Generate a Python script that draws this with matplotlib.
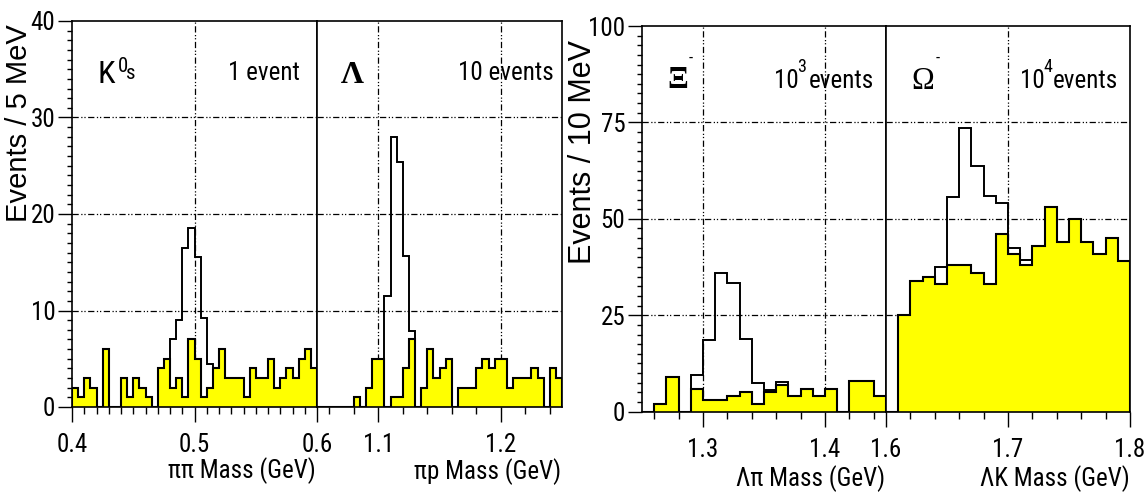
import matplotlib
matplotlib.use('Agg')
import matplotlib.pyplot as plt
import numpy as np
from matplotlib import font_manager as fm
from matplotlib.ticker import MultipleLocator, FixedLocator, FixedFormatter

# ---------------- data ----------------
k0s_range = (0.40, 0.60)   # GeV, 5 MeV bins
k0s_bkg = [2, 1, 3, 2, 0, 6, 0, 0, 3, 1, 3, 2, 1, 0, 4, 5, 2, 3, 1, 7,
           5, 1, 2, 4, 6, 3, 3, 3, 1, 4, 3, 3, 5, 2, 3, 4, 3, 5, 6, 4]
k0s_tot = [2, 1, 3, 2, 0, 6, 0, 0, 3, 1, 3, 2, 1, 0, 4, 5, 7, 9, 16.5, 18.5,
           15.5, 9.2, 4.5, 4, 6, 3, 3, 3, 1, 4, 3, 3, 5, 2, 3, 4, 3, 5, 6, 4]

lam_range = (1.05, 1.25)   # GeV, 5 MeV bins
lam_bkg = [0, 0, 0, 0, 0, 0, 1, 0, 2, 5, 5, 0, 1, 1, 4, 7, 0, 2, 6, 3,
           4, 5, 0, 2, 2, 2, 4, 5, 4, 5, 5, 2, 3, 3, 3, 4, 3, 0, 4, 3]
lam_tot = [0, 0, 0, 0, 0, 0, 1, 0, 2, 5, 5, 11.5, 28, 25.4, 15.6, 7.9, 0, 2, 6, 3,
           4, 5, 0, 2, 2, 2, 4, 5, 4, 5, 5, 2, 3, 3, 3, 4, 3, 0, 4, 3]

xi_range = (1.25, 1.45)    # GeV, 10 MeV bins
xi_bkg = [0, 2, 9, 0, 6, 3, 3, 4, 5, 2, 5, 7, 4, 6, 4, 6, 0, 8, 8, 4]
xi_tot = [0, 2, 9, 0, 9.5, 18.5, 36, 33.3, 18.8, 7.5, 5.6, 7.6, 4, 6, 4, 6, 0, 8, 8, 4]

om_range = (1.60, 1.80)    # GeV, 10 MeV bins
om_bkg = [0, 25, 34, 35, 33, 38, 38, 36, 33, 46, 41, 38, 43, 53, 44, 50, 44, 41, 45, 39]
om_tot = [0, 25, 34, 35, 37.5, 55.6, 73.6, 63.7, 55.9, 54.2, 42.4, 39.3, 43, 53, 44, 50, 44, 41, 45, 39]

k0s_xticks = [0.4, 0.5, 0.6]
lam_xticks = [1.1, 1.2]
xi_xticks = [1.3, 1.4]
om_xticks = [1.6, 1.7, 1.8]
left_yticks = [0, 10, 20, 30, 40]
right_yticks = [0, 25, 50, 75, 100]

# ---------------- fonts ----------------
_entries = fm.fontManager.ttflist
_names = {f.name for f in _entries}
NARROW_FAM = None
NARROW_STRETCH = 'normal'
for cand in ['Liberation Sans Narrow', 'Arial Narrow', 'Roboto Condensed',
             'DejaVu Sans Condensed', 'Noto Sans Condensed', 'Open Sans Condensed',
             'Nimbus Sans Narrow', 'Nimbus Sans L Condensed']:
    if cand in _names:
        NARROW_FAM = cand
        break
if NARROW_FAM is None:
    for fam in ['Roboto', 'Noto Sans', 'Open Sans', 'DejaVu Sans', 'Liberation Sans', 'Lato', 'Inter']:
        found = [f for f in _entries if f.name == fam and f.style == 'normal'
                 and str(f.stretch) in ('condensed', 'semi-condensed', 'extra-condensed')]
        if found:
            NARROW_FAM = fam
            NARROW_STRETCH = str(found[0].stretch)
            break
if NARROW_FAM is None:
    NARROW_FAM = 'Liberation Sans'
    TS = 15
    AS = 15
else:
    TS = 18
    AS = 18

plt.rcParams['font.family'] = [NARROW_FAM, 'DejaVu Sans']
plt.rcParams['font.stretch'] = NARROW_STRETCH
WIDE = dict(family=['Liberation Sans', 'DejaVu Sans'], stretch='normal')
SERIF = dict(family=['Liberation Serif', 'DejaVu Serif'], stretch='normal')

W, H = 1146, 495
YELLOW = '#ffff00'
GRID_LS = (0, (5, 2, 1, 1.5, 1, 2))

fig = plt.figure(figsize=(W / 100, H / 100), dpi=100)


def add_ax(x0, ytop, x1, ybot):
    return fig.add_axes([x0 / W, 1 - ybot / H, (x1 - x0) / W, (ybot - ytop) / H])


def style(ax, rng, ymax, xmaj, xmin_step, xmin_start, ymin_step, show_y, grid_x, grid_y):
    ax.set_xlim(*rng)
    ax.set_ylim(0, ymax)
    ax.set_axisbelow(True)
    ax.xaxis.set_major_locator(FixedLocator(xmaj))
    ax.xaxis.set_major_formatter(FixedFormatter([f'{v:g}' for v in xmaj]))
    ax.xaxis.set_minor_locator(FixedLocator(np.arange(xmin_start, rng[1] + 1e-9, xmin_step)))
    ax.tick_params(axis='x', which='major', direction='out', length=11, width=1.0,
                   labelsize=TS, pad=8)
    ax.tick_params(axis='x', which='minor', direction='out', length=5, width=1.0)
    if show_y:
        ax.yaxis.set_minor_locator(MultipleLocator(ymin_step))
        ax.tick_params(axis='y', which='major', direction='out', length=10, width=1.0,
                       labelsize=TS, pad=2)
        ax.tick_params(axis='y', which='minor', direction='out', length=3.8, width=1.0)
    else:
        ax.tick_params(axis='y', which='both', left=False, labelleft=False)
    for s in ax.spines.values():
        s.set_linewidth(1.2)
    for gx in grid_x:
        ax.axvline(gx, color='black', lw=0.9, ls=GRID_LS, zorder=1)
    for gy in grid_y:
        ax.axhline(gy, color='black', lw=0.9, ls=GRID_LS, zorder=1)


def hist(ax, rng, bkg, tot):
    edges = np.linspace(rng[0], rng[1], len(bkg) + 1)
    ax.stairs(bkg, edges, fill=True, facecolor=YELLOW, edgecolor='none', zorder=2)
    ax.stairs(tot, edges, color='black', lw=1.4, zorder=3)
    ax.stairs(bkg, edges, color='black', lw=1.5, zorder=3)


# left panel
ax_k = add_ax(72, 21, 317, 407)
ax_l = add_ax(317, 21, 562, 407)
hist(ax_k, k0s_range, k0s_bkg, k0s_tot)
hist(ax_l, lam_range, lam_bkg, lam_tot)
style(ax_k, k0s_range, 40, k0s_xticks, 0.01, 0.41, 1, True, [0.5], [10, 20, 30])
ax_k.yaxis.set_major_locator(FixedLocator(left_yticks))
style(ax_l, lam_range, 40, lam_xticks, 0.02, 1.06, 1, False, [1.1, 1.2], [10, 20, 30])

# right panel
ax_x = add_ax(642, 26, 886, 411.7)
ax_o = add_ax(886, 26, 1130, 411.7)
hist(ax_x, xi_range, xi_bkg, xi_tot)
hist(ax_o, om_range, om_bkg, om_tot)
style(ax_x, xi_range, 100, xi_xticks, 0.02, 1.26, 2.5, True, [1.3, 1.4], [25, 50, 75])
ax_x.yaxis.set_major_locator(FixedLocator(right_yticks))
style(ax_o, om_range, 100, om_xticks, 0.02, 1.62, 2.5, False, [1.7], [25, 50, 75])


def ftext(x, y, s, **kw):
    return fig.text(x / W, 1 - y / H, s, **kw)


# axis titles
ftext(19, 24, 'Events / 5 MeV', rotation=90, ha='center', va='top', size=21, **WIDE)
ftext(583, 40, 'Events / 10 MeV', rotation=90, ha='center', va='top', size=22, **WIDE)
ftext(316, 478, 'ππ Mass (GeV)', ha='right', va='baseline', size=AS)
ftext(561, 479, 'πp Mass (GeV)', ha='right', va='baseline', size=AS)
ftext(885, 486, 'Λπ Mass (GeV)', ha='right', va='baseline', size=AS)
ftext(1130, 486, 'ΛK Mass (GeV)', ha='right', va='baseline', size=AS)

# panel annotations
ftext(97, 83, 'K', ha='left', va='baseline', size=23)
ftext(118, 72, '0', ha='left', va='baseline', size=15)
ftext(126, 79, 's', ha='left', va='baseline', size=15)
ftext(300, 80, '1 event', ha='right', va='baseline', size=AS)
ftext(352, 83, 'Λ', ha='center', va='baseline', size=23, weight='bold', **SERIF)
ftext(554, 80, '10 events', ha='right', va='baseline', size=AS)

ftext(667, 88, 'Ξ', ha='left', va='baseline', size=22, weight='bold', **SERIF)
ftext(689, 63, '-', ha='left', va='baseline', size=12)
ftext(774, 88, '10', ha='left', va='baseline', size=AS)
ftext(797, 72, '3', ha='left', va='baseline', size=13)
ftext(874, 88, 'events', ha='right', va='baseline', size=AS)

ftext(911, 89, 'Ω', ha='left', va='baseline', size=22, **SERIF)
ftext(936, 63, '-', ha='left', va='baseline', size=12)
ftext(1020, 88, '10', ha='left', va='baseline', size=AS)
ftext(1043, 72, '4', ha='left', va='baseline', size=13)
ftext(1118, 88, 'events', ha='right', va='baseline', size=AS)

fig.savefig('out.png', dpi=100)
